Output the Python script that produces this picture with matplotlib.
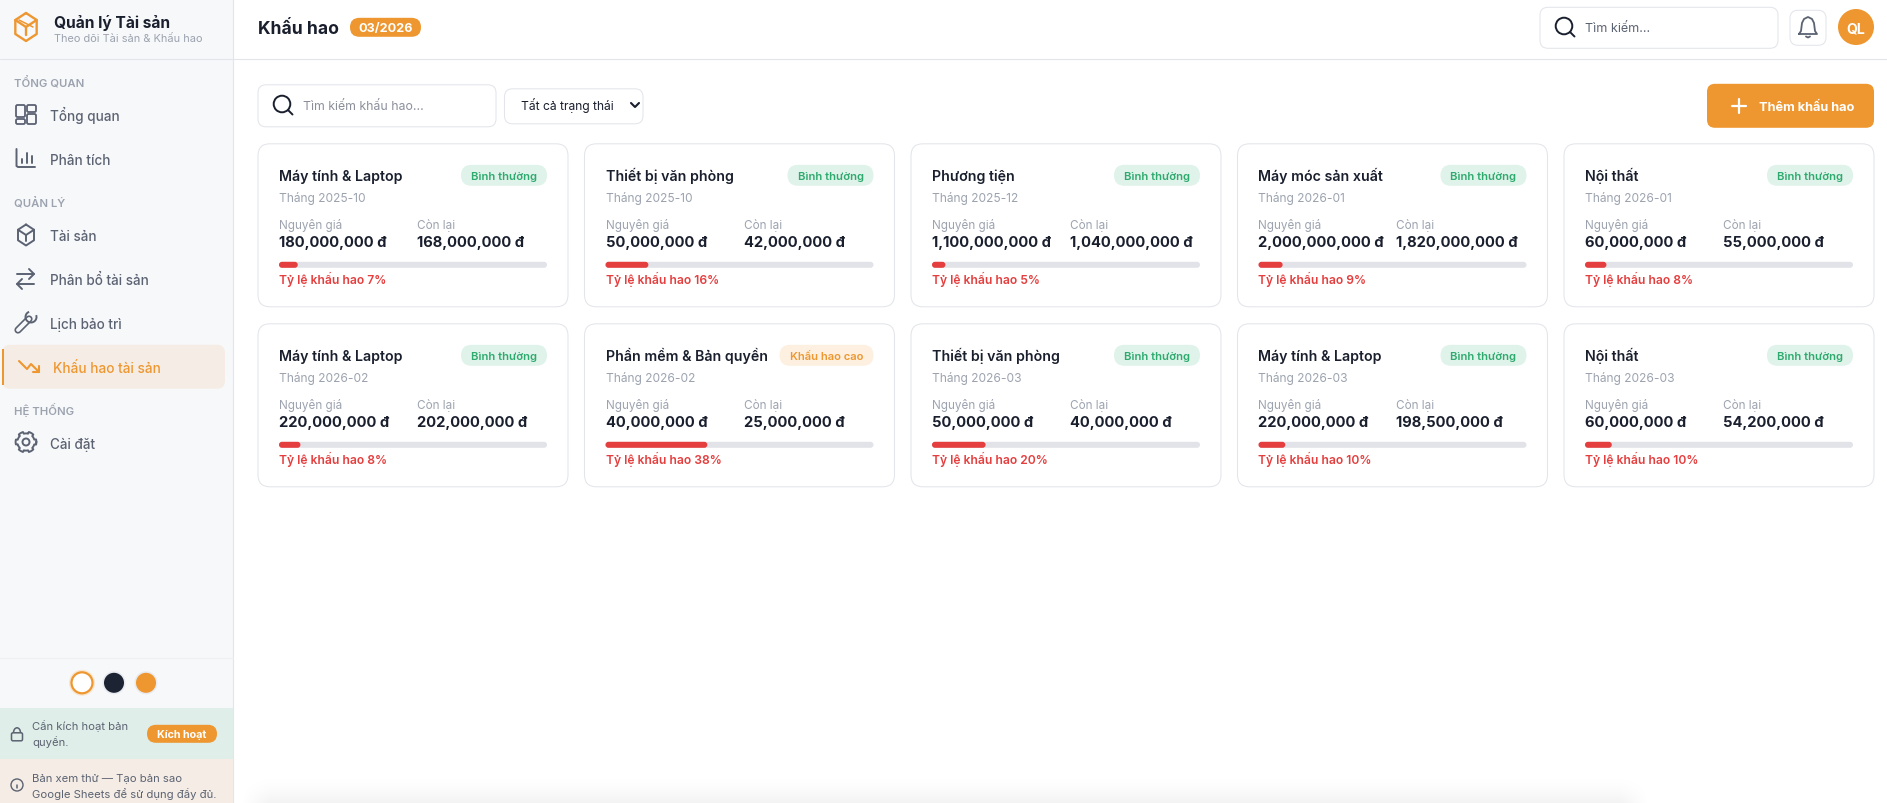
import numpy as np
import matplotlib
matplotlib.use("Agg")
import matplotlib.pyplot as plt
from matplotlib.patches import FancyBboxPatch, Circle, Rectangle, Arc

plt.rcParams['font.family'] = ['Inter', 'Noto Sans', 'DejaVu Sans']

# du lieu cac the khau hao
names = ["Máy tính & Laptop", "Thiết bị văn phòng", "Phương tiện", "Máy móc sản xuất", "Nội thất",
         "Máy tính & Laptop", "Phần mềm & Bản quyền", "Thiết bị văn phòng", "Máy tính & Laptop", "Nội thất"]
months = ["2025-10", "2025-10", "2025-12", "2026-01", "2026-01",
          "2026-02", "2026-02", "2026-03", "2026-03", "2026-03"]
costs = [180000000, 50000000, 1100000000, 2000000000, 60000000,
         220000000, 40000000, 50000000, 220000000, 60000000]
remaining = [168000000, 42000000, 1040000000, 1820000000, 55000000,
             202000000, 25000000, 40000000, 198500000, 54200000]
rates = [7, 16, 5, 9, 8, 8, 38, 20, 10, 10]
statuses = ["Bình thường"] * 10
statuses[6] = "Khấu hao cao"

nav_labels = ["Tổng quan", "Phân tích", "Tài sản", "Phân bổ tài sản", "Lịch bảo trì", "Cài đặt"]
nav_rows = [116, 160, 236, 280, 324, 444]
section_labels = ["TỔNG QUAN", "QUẢN LÝ", "HỆ THỐNG"]
section_rows = [83, 203, 411]

ORANGE = "#ee9730"
DARK = "#1a1f2e"
GRAY = "#5b6272"
LIGHT = "#9ca3af"
BORDER = "#e3e5ea"
RED = "#e53e3e"

fig = plt.figure(figsize=(18.87, 8.04), dpi=100)
ax = fig.add_axes([0, 0, 1, 1])
ax.set_xlim(0, 1887)
ax.set_ylim(804, 0)
ax.axis('off')


def txt(x, y, s, px, color=DARK, weight='normal', ha='left'):
    # y es el centro de la letra, pasamos a linea base
    ax.text(x, y + 0.36 * px, s, fontsize=px * 0.72, color=color, fontweight=weight, ha=ha, va='baseline')


def box(x0, y0, x1, y1, r, fc='white', ec='none', lw=0.75, z=1):
    y0 += 0.8
    y1 += 0.8
    p = FancyBboxPatch((x0 + r, y0 + r), x1 - x0 - 2 * r, y1 - y0 - 2 * r,
                       boxstyle="round,pad=%f,rounding_size=%f" % (r, r),
                       fc=fc, ec=ec, lw=lw, zorder=z)
    ax.add_patch(p)


def line(xs, ys, color=GRAY, lw=1.4, z=3):
    ax.plot(xs, ys, color=color, lw=lw, zorder=z, solid_capstyle='round', solid_joinstyle='round')


def cube(cx, cy, r, color, lw):
    a = np.radians(np.arange(-90, 300, 60))
    hx = cx + r * 0.88 * np.cos(a)
    hy = cy + r * np.sin(a)
    line(hx, hy, color, lw)
    line([hx[5], cx, hx[1]], [hy[5], cy, hy[1]], color, lw)
    line([cx, cx], [cy, hy[2] + 0.5], color, lw)


def search_icon(cx, cy):
    ax.add_patch(Circle((cx, cy), 8.3, fc='none', ec=DARK, lw=1.4, zorder=3))
    line([cx + 6, cx + 10.5], [cy + 6, cy + 10.5], DARK, 1.4)


# fondo lateral
ax.add_patch(Rectangle((0, 0), 233, 804, fc="#f7f8fa", ec='none', zorder=0))
line([233, 233], [0, 804], BORDER, 0.8, 1)
line([0, 1887], [60, 60], BORDER, 0.8, 1)

# sombra abajo
sy = np.linspace(0, 1, 34)[:, None] ** 2
sx = np.clip(np.minimum(np.arange(1410) / 30.0, (1409 - np.arange(1410)) / 30.0), 0, 1)[None, :]
shadow = np.zeros((34, 1410, 4))
shadow[..., 3] = 0.05 * sy * sx
ax.imshow(shadow, extent=(240, 1650, 804, 770), aspect='auto', zorder=0.5)
ax.set_xlim(0, 1887)
ax.set_ylim(804, 0)

# logo
cube(26, 28, 14, ORANGE, 1.7)
line([19, 33], [21, 28], ORANGE, 1.1)
txt(54.5, 22, "Quản lý Tài sản", 15.5, DARK, 'bold')
txt(54.5, 38, "Theo dõi Tài sản & Khấu hao", 11, LIGHT)

for s, y in zip(section_labels, section_rows):
    txt(14, y, s, 11.3, LIGHT, 'semibold')
for s, y in zip(nav_labels, nav_rows):
    txt(50, y, s, 13.5, GRAY, 'medium')

# iconos del menu
for x0, y0, x1, y1 in [(16, 106, 25, 118), (27, 106, 36, 113), (16, 120, 25, 125), (27, 115, 36, 125)]:
    box(x0, y0 - 0.8, x1, y1 - 0.8, 1.5, fc='none', ec=GRAY, lw=1.3, z=3)
line([16.5, 16.5, 18, 35], [150, 167, 168, 168])
line([21.5, 21.5], [160, 164])
line([27, 27], [154, 164])
line([32, 32], [157, 164])
cube(26, 236, 10.5, GRAY, 1.4)
line([17, 34], [275, 275])
line([29, 34, 29], [270, 275, 280])
line([34, 17], [285, 285])
line([22, 17, 22], [280, 285, 290])
# llave
line([18, 29], [331, 320], GRAY, 5.2)
line([18, 29], [331, 320], "#f7f8fa", 2.8, 4)
ax.add_patch(Arc((31, 318), 11, 11, angle=0, theta1=-20, theta2=250, ec=GRAY, lw=1.4, zorder=5))
# engranaje
ang = np.linspace(0, 2 * np.pi, 200)
rad = 9.5 + np.sign(np.cos(6 * ang)) * 0.9
line(26 + rad * np.cos(ang), 443 + rad * np.sin(ang), GRAY, 1.4)
ax.add_patch(Circle((26, 443), 3.5, fc='none', ec=GRAY, lw=1.4, zorder=3))

# item activo
box(2, 345, 225, 389, 8, fc="#f5ede5", z=1)
ax.add_patch(Rectangle((2, 350), 2, 36, fc=ORANGE, ec='none', zorder=2))
txt(53, 368, "Khấu hao tài sản", 13.6, ORANGE, 'medium')
line([19, 27, 31, 39], [362, 370, 365, 373], ORANGE, 1.5)
line([39, 39, 33], [367, 373, 373], ORANGE, 1.5)

# selector de tema
line([0, 233], [658.5, 658.5], "#eef0f3", 0.8, 1)
ax.add_patch(Circle((82, 683.8), 13, fc="#f8e6d0", ec='none', zorder=2))
ax.add_patch(Circle((82, 683.8), 10.5, fc='white', ec=ORANGE, lw=1.6, zorder=3))
ax.add_patch(Circle((114, 683.8), 11.5, fc="#e8eaef", ec='none', zorder=2))
ax.add_patch(Circle((114, 683.8), 10, fc="#1c2333", ec='none', zorder=3))
ax.add_patch(Circle((146, 683.8), 11.5, fc="#e8eaef", ec='none', zorder=2))
ax.add_patch(Circle((146, 683.8), 10, fc=ORANGE, ec='none', zorder=3))

# avisos de licencia
ax.add_patch(Rectangle((0, 708.8), 233, 51, fc="#dfeee8", ec='none', zorder=1))
ax.add_patch(Rectangle((0, 759.8), 233, 45, fc="#f5ede5", ec='none', zorder=1))
box(11.5, 733, 22.5, 741, 1.5, fc='none', ec=GRAY, lw=1.1, z=3)
ax.add_patch(Arc((17, 733.8), 7, 10, theta1=180, theta2=360, ec=GRAY, lw=1.1, zorder=3))
txt(32, 726, "Cần kích hoạt bản", 11.3, GRAY)
txt(32, 742, "quyền.", 11.3, GRAY)
box(147, 725, 217, 743, 9, fc=ORANGE, z=2)
txt(182, 734, "Kích hoạt", 10.8, 'white', 'bold', 'center')
ax.add_patch(Circle((17, 786), 6, fc='none', ec=GRAY, lw=1.0, zorder=3))
line([17, 17], [785.5, 789], GRAY, 1.1)
line([17, 17], [783, 783.2], GRAY, 1.1)
txt(32, 778, "Bản xem thử — Tạo bản sao", 11.3, GRAY)
txt(32, 794, "Google Sheets để sử dụng đầy đủ.", 11.3, GRAY)

# cabecera
txt(258, 28, "Khấu hao", 17.5, DARK, 'bold')
box(350, 18, 421, 37, 9.5, fc=ORANGE)
txt(385.5, 27.5, "03/2026", 12.6, 'white', 'bold', 'center')
box(1540, 7.5, 1778, 48.5, 8, ec=BORDER)
search_icon(1564, 27)
txt(1585, 27, "Tìm kiếm...", 12.6, GRAY)
box(1790, 10.5, 1826, 45.5, 8, ec=BORDER)
bx = np.array([1799, 1801, 1802, 1804, 1808, 1812, 1814, 1815, 1817, 1799])
by = np.array([35, 32, 24, 20, 18, 20, 24, 32, 35, 35])
line(bx, by, GRAY, 1.3)
line([1806, 1808, 1810], [37.5, 38.5, 37.5], GRAY, 1.3)
ax.add_patch(Circle((1856, 28), 18, fc=ORANGE, ec='none', zorder=2))
txt(1856, 28, "QL", 14, 'white', 'bold', 'center')

# barra de herramientas
box(258, 85, 496, 127, 8, ec=BORDER)
search_icon(282, 105)
txt(303, 106, "Tìm kiếm khấu hao...", 12.3, "#8a8f9a")
box(504.5, 89, 643, 124, 8, ec=BORDER)
txt(521, 106, "Tất cả trạng thái", 12.1, DARK)
line([631, 635, 639], [104, 108, 104], DARK, 1.5)
box(1707, 84, 1874, 128, 8, fc=ORANGE)
line([1732, 1746], [106.5, 106.5], 'white', 1.6)
line([1739, 1739], [99.5, 113.5], 'white', 1.6)
txt(1759, 106, "Thêm khấu hao", 12.8, 'white', 'bold')

# tarjetas
card_w = 310
card_h = 163
for i in range(len(names)):
    x0 = 258 + 326.5 * (i % 5)
    y0 = 144 + 180 * (i // 5)
    box(x0, y0, x0 + card_w, y0 + card_h, 12, ec=BORDER)
    tx = x0 + 21
    txt(tx, y0 + 32, names[i], 14.2, DARK, 'semibold')
    txt(tx, y0 + 53.5, "Tháng " + months[i], 12, LIGHT)
    txt(tx, y0 + 80.5, "Nguyên giá", 11.7, LIGHT)
    txt(x0 + 159, y0 + 80.5, "Còn lại", 11.7, LIGHT)
    txt(tx, y0 + 97.5, "{:,} đ".format(costs[i]), 14.7, DARK, 'bold')
    txt(x0 + 159, y0 + 97.5, "{:,} đ".format(remaining[i]), 14.7, DARK, 'bold')

    # pastilla de estado
    if statuses[i] == "Khấu hao cao":
        pill_fc, pill_tc, pill_w = "#fdf0e0", ORANGE, 94
    else:
        pill_fc, pill_tc, pill_w = "#dff3ea", "#2eaa6e", 86
    px1 = x0 + 289
    box(px1 - pill_w, y0 + 21, px1, y0 + 42, 10.5, fc=pill_fc, z=2)
    txt(px1 - pill_w / 2, y0 + 32, statuses[i], 11.2, pill_tc, 'semibold', 'center')

    # barra de progreso
    bar_w = 268
    box(tx, y0 + 118, tx + bar_w, y0 + 124, 3, fc="#e1e3e8", z=2)
    box(tx, y0 + 118, tx + bar_w * rates[i] / 100, y0 + 124, 3, fc=RED, z=3)
    txt(tx, y0 + 135.5, "Tỷ lệ khấu hao {}%".format(rates[i]), 12.1, RED, 'semibold')

fig.savefig("out.png", dpi=100)
